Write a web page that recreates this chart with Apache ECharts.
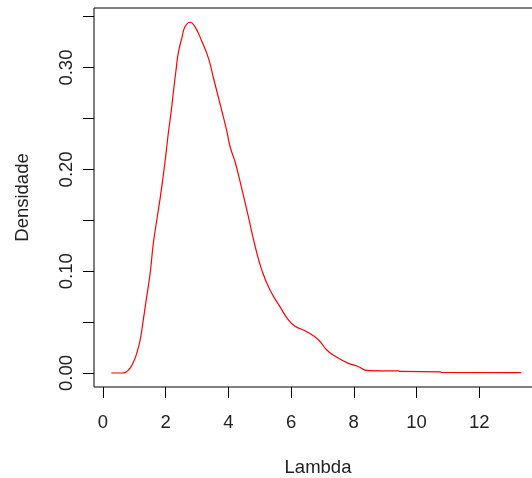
<!DOCTYPE html>
<html>
<head>
<meta charset="utf-8">
<script src="https://cdn.jsdelivr.net/npm/echarts@6/dist/echarts.min.js"></script>
<style>html,body{margin:0;padding:0;background:#fff}#c{width:532px;height:478px}</style>
</head>
<body>
<div id="c"></div>
<script>
var lambdaX = [0.27,0.61,0.82,0.98,1.08,1.19,1.29,1.40,1.51,1.61,1.72,1.83,1.93,2.02,2.09,2.18,2.25,2.34,2.41,2.52,2.62,2.78,2.94,3.16,3.37,3.53,3.74,3.95,4.06,4.22,4.43,4.64,4.86,5.07,5.33,5.65,5.92,6.13,6.50,6.88,7.14,7.46,7.83,8.1,8.47,9.43,9.48,10.76,10.81,13.34];
var densidade = [0,0,0.003,0.011,0.0193,0.0324,0.052,0.075,0.098,0.127,0.150,0.172,0.1945,0.217,0.236,0.2567,0.276,0.299,0.315,0.329,0.340,0.3445,0.340,0.3255,0.309,0.2895,0.264,0.238,0.222,0.207,0.181,0.1535,0.124,0.101,0.0815,0.065,0.052,0.046,0.0406,0.0324,0.0226,0.0154,0.0095,0.0069,0.0023,0.002,0.0015,0.0012,0.0005,0.0003];
var xTicks = [0,2,4,6,8,10,12];
var yTicks = [0,0.05,0.1,0.15,0.2,0.25,0.3,0.35];
var yLabels = [0,0.1,0.2,0.3];

var pts = lambdaX.map(function(x,i){return [x, densidade[i]];});
var font = 'Liberation Sans, Arial, sans-serif';
var chart = echarts.init(document.getElementById('c'), null, {renderer:'canvas'});
chart.setOption({
  animation:false,
  backgroundColor:'#fff',
  grid:{left:94, top:8, width:448, height:379, show:true, borderColor:'#000', borderWidth:1, backgroundColor:'transparent',
    containLabel:false, outerBoundsMode:'none'},
  xAxis:{type:'value', min:-0.28, max:14, name:'Lambda', nameLocation:'middle', nameGap:71,
    nameTextStyle:{fontFamily:font, fontSize:18.5, color:'#222'},
    axisLine:{show:false, onZero:false}, splitLine:{show:false},
    axisTick:{show:true, inside:false, length:11, customValues:xTicks, lineStyle:{color:'#000', width:1}},
    axisLabel:{customValues:xTicks, margin:26, fontFamily:font, fontSize:18.5, color:'#222'}},
  yAxis:{type:'value', min:-0.01375, max:0.3585, name:'Densidade', nameLocation:'middle', nameGap:62, nameRotate:90,
    nameTextStyle:{fontFamily:font, fontSize:18.5, color:'#222'},
    axisLine:{show:false, onZero:false}, splitLine:{show:false},
    axisTick:{show:true, inside:false, length:11, customValues:yTicks, lineStyle:{color:'#000', width:1}},
    axisLabel:{customValues:yLabels, rotate:90, margin:18, fontFamily:font, fontSize:18.5, color:'#222',
      formatter:function(v){return v.toFixed(2);}}},
  series:[{type:'line', data:pts, smooth:0.5, showSymbol:false, symbol:'none', clip:true,
    lineStyle:{color:'#ff0000', width:1.2}}]
});
</script>
</body>
</html>
